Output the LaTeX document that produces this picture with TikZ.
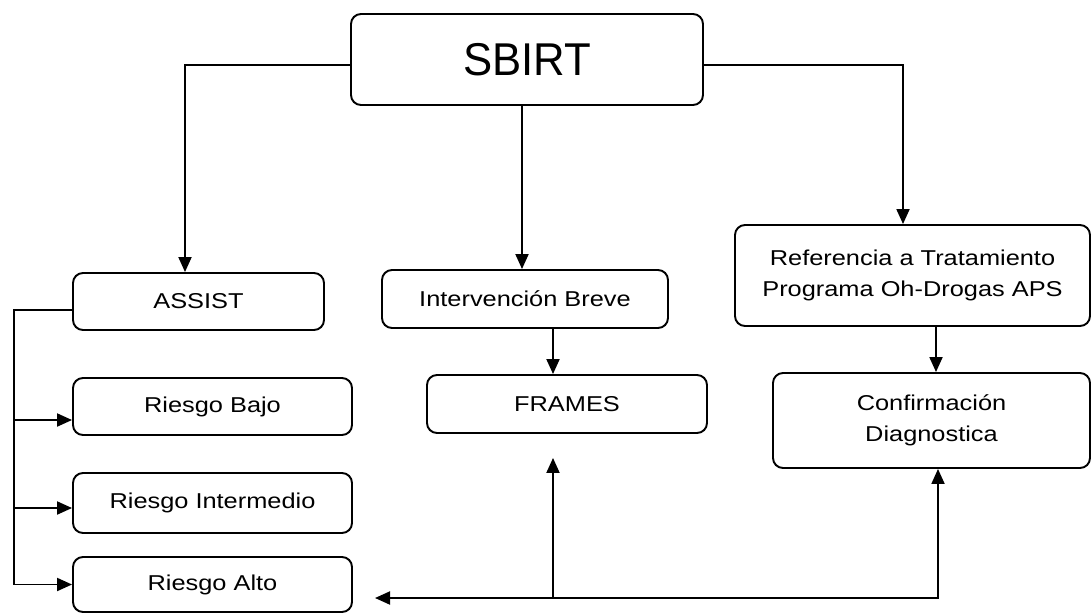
\documentclass[tikz,border=0pt]{standalone}
\usepackage{fontspec}
\setmainfont{Liberation Sans}[FakeStretch=1.18]
\newfontfamily\bigfont{Liberation Sans}[FakeStretch=0.95]
\usetikzlibrary{arrows.meta}
\begin{document}
\begin{tikzpicture}[x=1pt,y=-1pt,
  box/.style={draw, line width=1.9pt, rounded corners=10pt, align=center, inner sep=0pt,
              font=\fontsize{21.5}{31}\selectfont},
  conn/.style={line width=1.9pt},
  arr/.style={conn, -{Triangle[length=15pt,width=13pt]}},
  arrboth/.style={conn, {Triangle[length=15pt,width=13pt]}-{Triangle[length=15pt,width=13pt]}}]
\useasboundingbox (0,0) rectangle (1091,613);
\node[box, minimum width=352pt, minimum height=91pt, font=\bigfont\fontsize{46}{50}\selectfont] (sbirt) at (527,59.5) {SBIRT};
\node[box, minimum width=251pt, minimum height=57pt] (assist) at (198.5,301.5) {ASSIST};
\node[box, minimum width=279pt, minimum height=57pt] (bajo) at (212.5,406.5) {Riesgo Bajo};
\node[box, minimum width=279pt, minimum height=60pt] (medio) at (212.5,503) {Riesgo Intermedio};
\node[box, minimum width=279pt, minimum height=55pt] (alto) at (212.5,584.5) {Riesgo Alto};
\node[box, minimum width=286pt, minimum height=58pt] (inter) at (525,299) {Intervención Breve};
\node[box, minimum width=280pt, minimum height=58pt] (frames) at (567,404) {FRAMES};
\node[box, minimum width=355pt, minimum height=101pt] (ref) at (912.5,275.5) {Referencia a Tratamiento\\Programa Oh-Drogas APS};
\node[box, minimum width=317pt, minimum height=95pt] (conf) at (931.5,420.5) {Confirmación\\Diagnostica};

% from SBIRT
\draw[arr] ([yshift=-5.5pt]sbirt.west) -| ([xshift=-13.5pt]assist.north);
\coordinate (m1) at ([xshift=-5pt]sbirt.south);
\draw[arr] (m1) -- (m1 |- inter.north);
\draw[arr] ([yshift=-5.5pt]sbirt.east) -| ([xshift=-9.5pt]ref.north);

% vertical links
\coordinate (r1) at ([xshift=4.5pt]conf.north);
\draw[arr] (r1 |- ref.south) -- (r1);
\coordinate (f1) at ([xshift=-14pt]frames.north);
\draw[arr] (f1 |- inter.south) -- (f1);

% ASSIST spine
\coordinate (a0) at ([yshift=-8.5pt]assist.west);
\coordinate (sp) at (14,310);
\coordinate (bj) at ([yshift=-13.5pt]bajo.west);
\coordinate (im) at ([yshift=-5pt]medio.west);
\coordinate (al) at (alto.west);
\draw[arr] (a0) -- (sp) -- (sp |- al) -- (al);
\draw[arr] (sp |- bj) -- (bj);
\draw[arr] (sp |- im) -- (im);

% bottom return line
\coordinate (c1) at ([xshift=6.5pt]conf.south);
\coordinate (bl) at (c1 |- 0,598);
\coordinate (lt) at (375,598);
\draw[arrboth] (c1) -- (bl) -- (lt);
\coordinate (f2) at ([xshift=-14pt,yshift=-24pt]frames.south);
\draw[arr] (f2 |- bl) -- (f2);
\end{tikzpicture}
\end{document}
